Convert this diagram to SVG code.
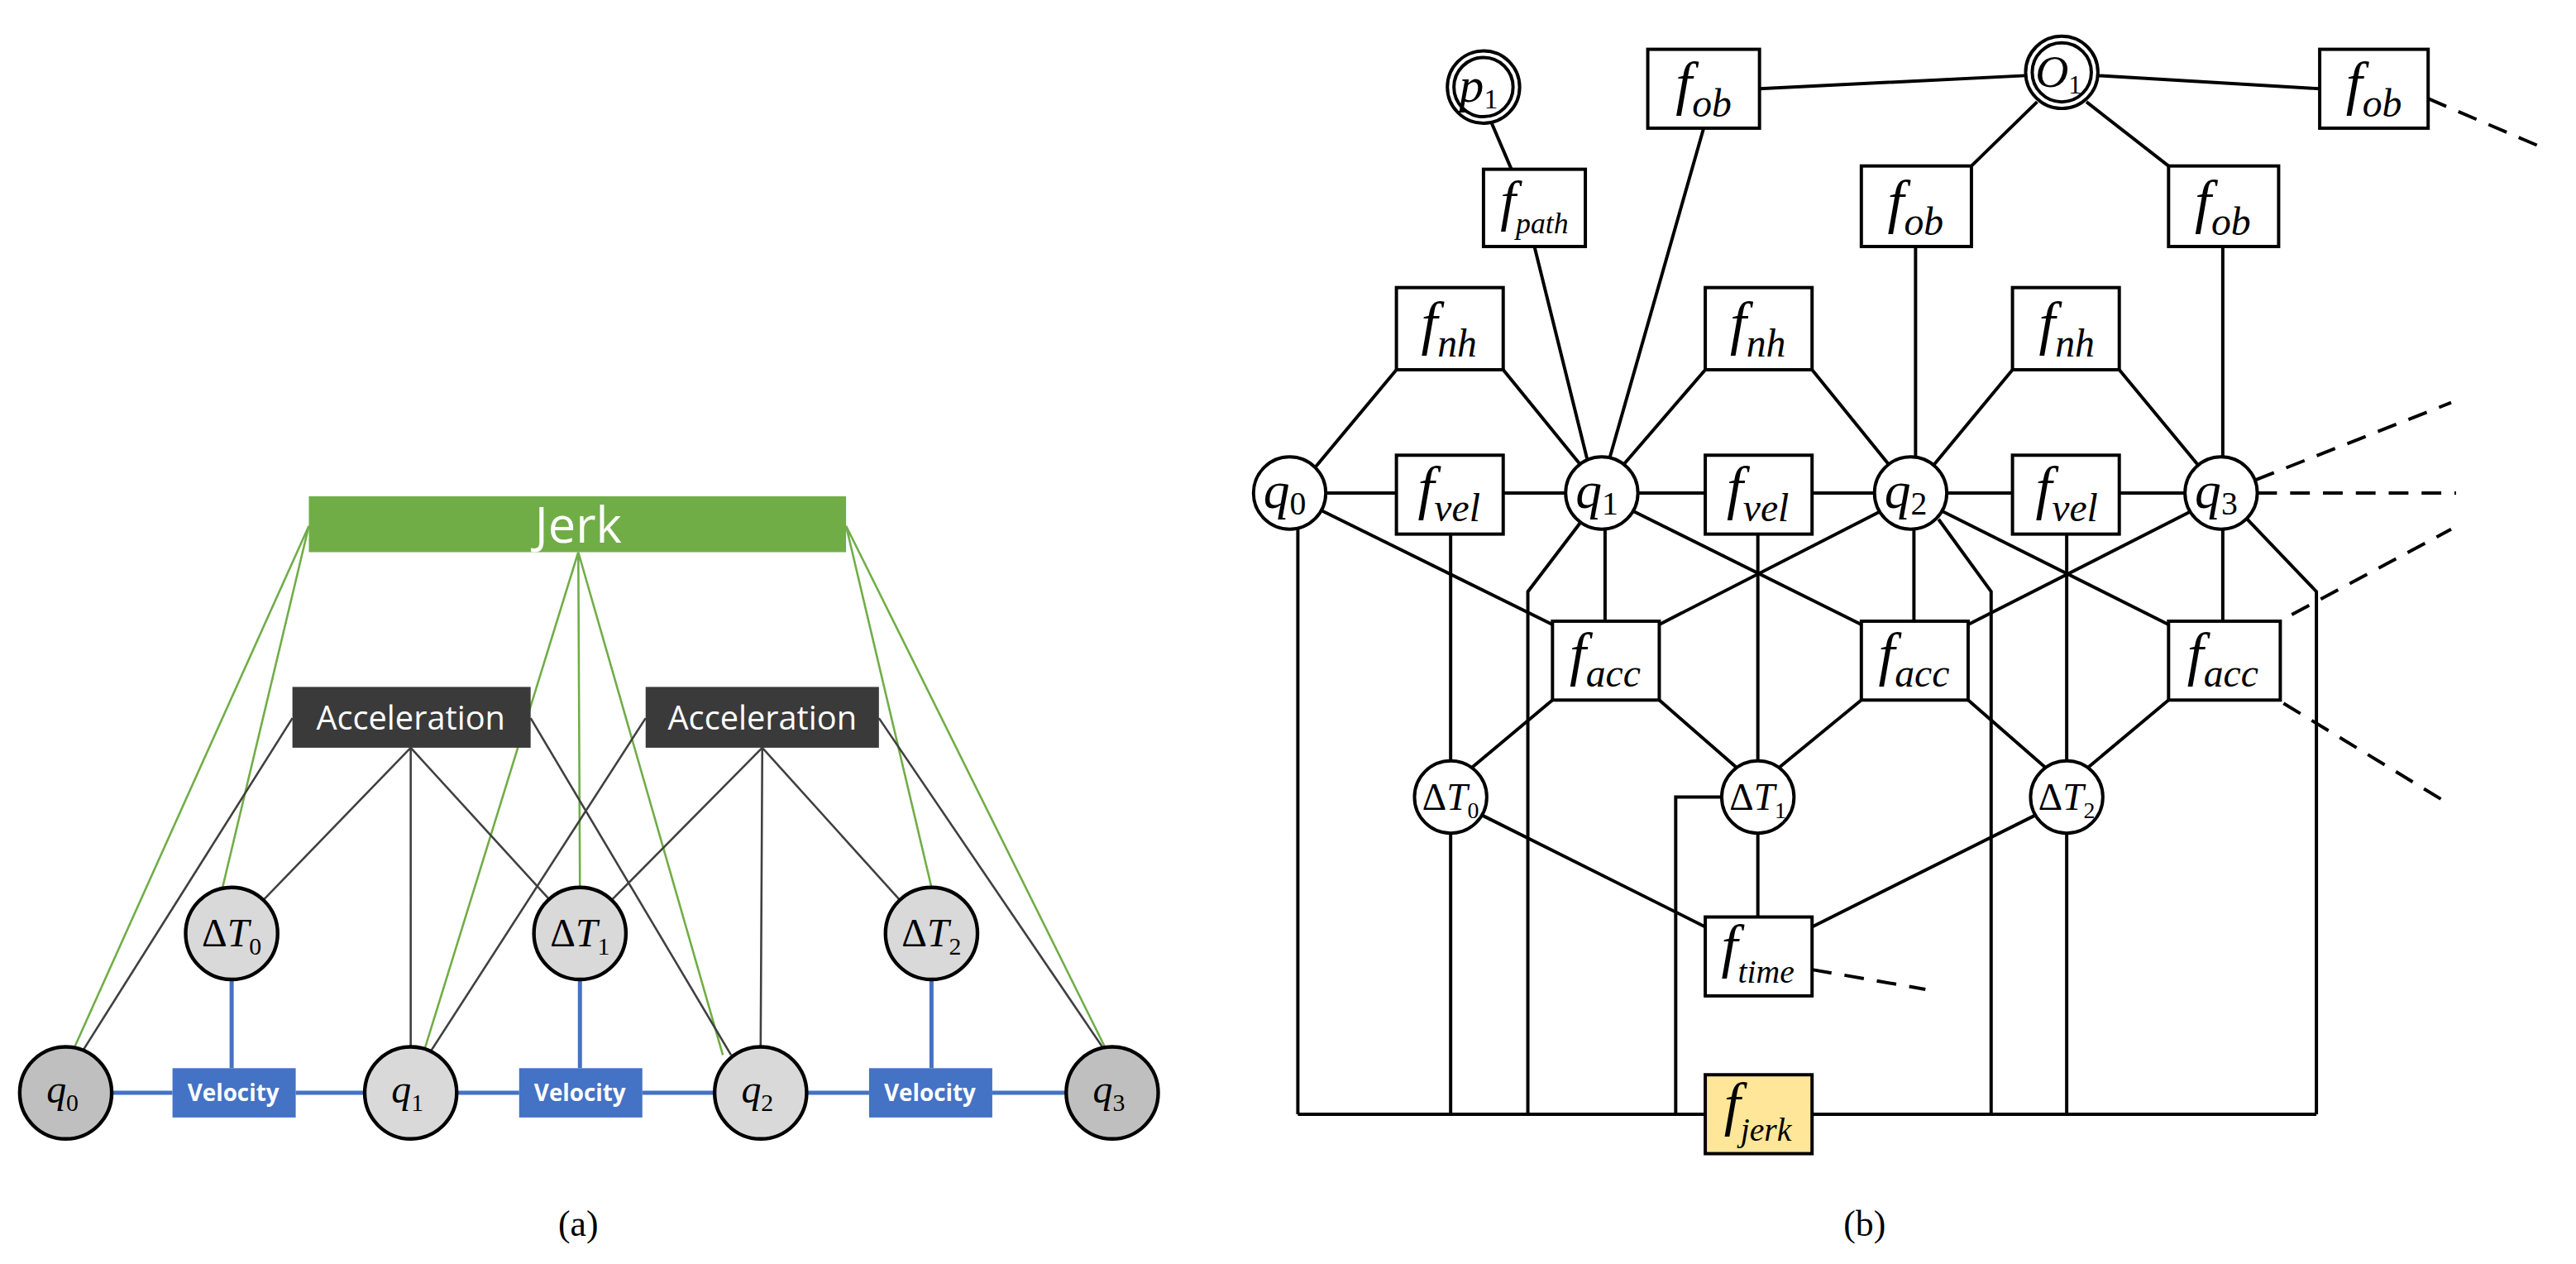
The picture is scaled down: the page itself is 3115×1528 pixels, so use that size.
<svg xmlns="http://www.w3.org/2000/svg" width="3115" height="1528" viewBox="0 0 3115 1528">
<style>
.g{stroke:#70AD47;stroke-width:1.3;fill:none}
.k{stroke:#404040;stroke-width:1.3;fill:none}
.bl{stroke:#4472C4;stroke-width:2.5;fill:none}
.vn{fill:#D9D9D9;stroke:#000;stroke-width:2.2}
.vd{fill:#BFBFBF;stroke:#000;stroke-width:2.2}
.e{stroke:#000;stroke-width:2;fill:none}
.d{stroke:#000;stroke-width:2;fill:none;stroke-dasharray:12 8}
.n{fill:#fff;stroke:#000;stroke-width:2}
text.m{font-family:"Liberation Serif","Times New Roman","DejaVu Serif",serif;font-style:italic;fill:#000}
text.s{font-family:"Liberation Serif","Times New Roman","DejaVu Serif",serif;font-style:normal;fill:#000}
tspan.u{font-style:normal}
text.w{font-family:"Open Sans","Liberation Sans",sans-serif;fill:#fff}
</style>
<rect width="3115" height="1528" fill="#fff"/>
<g transform="scale(1.9866)">
<g id="connectors-a">
<path class="g" d="M188 320L45 638M188 320L135 542M352 336L258 640M352 336L353 540M352 336L440 642M515 320L567 540M515 320L673 638"/>
<path class="k" d="M250 455L160 548M250 455L250 637M250 455L335 548M178 437L50 640M323 437L445 642M464 455L372 548M464 455L463 637M464 455L548 548M393 437L262 640M535 437L673 640"/>
<path class="bl" d="M68 665H105M180 665H222M278 665H316M391 665H435M491 665H529M604 665H649M141 596V650M353 596V650M567 596V650"/>
</g>
<g id="jerk-a"><rect x="188" y="302" width="327" height="34" fill="#70AD47"/><text class="w" x="352" y="330" font-size="30" text-anchor="middle">Jerk</text></g>
<g id="acc-a1"><rect x="178" y="418" width="145" height="37" fill="#3A3A3A"/><text class="w" x="250" y="444" font-size="20" text-anchor="middle">Acceleration</text></g>
<g id="acc-a2"><rect x="393" y="418" width="142" height="37" fill="#3A3A3A"/><text class="w" x="464" y="444" font-size="20" text-anchor="middle">Acceleration</text></g>
<g id="dt-a0"><circle class="vn" cx="141" cy="568" r="28"/><text class="m" x="141" y="576" font-size="24" text-anchor="middle"><tspan class="u">Δ</tspan>T<tspan class="u" font-size="15" dy="5">0</tspan></text></g>
<g id="dt-a1"><circle class="vn" cx="353" cy="568" r="28"/><text class="m" x="353" y="576" font-size="24" text-anchor="middle"><tspan class="u">Δ</tspan>T<tspan class="u" font-size="15" dy="5">1</tspan></text></g>
<g id="dt-a2"><circle class="vn" cx="567" cy="568" r="28"/><text class="m" x="567" y="576" font-size="24" text-anchor="middle"><tspan class="u">Δ</tspan>T<tspan class="u" font-size="15" dy="5">2</tspan></text></g>
<g id="q-a0"><circle class="vd" cx="40" cy="665" r="28"/><text class="m" x="38" y="671" font-size="24" text-anchor="middle">q<tspan class="u" font-size="15" dy="5">0</tspan></text></g>
<g id="q-a1"><circle class="vn" cx="250" cy="665" r="28"/><text class="m" x="248" y="671" font-size="24" text-anchor="middle">q<tspan class="u" font-size="15" dy="5">1</tspan></text></g>
<g id="q-a2"><circle class="vn" cx="463" cy="665" r="28"/><text class="m" x="461" y="671" font-size="24" text-anchor="middle">q<tspan class="u" font-size="15" dy="5">2</tspan></text></g>
<g id="q-a3"><circle class="vd" cx="677" cy="665" r="28"/><text class="m" x="675" y="671" font-size="24" text-anchor="middle">q<tspan class="u" font-size="15" dy="5">3</tspan></text></g>
<g id="vel-a0"><rect x="105" y="650" width="75" height="30" fill="#4472C4"/><text class="w" x="142" y="670" font-size="14" font-weight="bold" text-anchor="middle">Velocity</text></g>
<g id="vel-a1"><rect x="316" y="650" width="75" height="30" fill="#4472C4"/><text class="w" x="353" y="670" font-size="14" font-weight="bold" text-anchor="middle">Velocity</text></g>
<g id="vel-a2"><rect x="529" y="650" width="75" height="30" fill="#4472C4"/><text class="w" x="566" y="670" font-size="14" font-weight="bold" text-anchor="middle">Velocity</text></g>
<text class="s" x="352" y="752" font-size="22" text-anchor="middle">(a)</text>

<g id="connectors-b">
<path class="e" d="M908 75L920 103M934 150L966 279M1037 78L980 278M1071 54L1233 46M1277 46L1412 54M1240 62L1200 101M1270 62L1320 101M1166 150V278M1353 150V278"/>
<path class="e" d="M850 225L800 285M915 225L963 284M1038 225L988 283M1103 225L1150 283M1225 225L1177 283M1290 225L1338 283"/>
<path class="e" d="M807 300H850M915 300H953M997 300H1038M1103 300H1141M1185 300H1225M1290 300H1330"/>
<path class="e" d="M805 311L945 380M977 322V378M1145 311L1010 380M945 426L896 467M1010 426L1057 467M994 311L1133 380M1165 322V378M1334 311L1198 380M1133 426L1083 467M1198 426L1245 467M1182 311L1320 380M1353 322V378M1320 426L1271 467"/>
<path class="e" d="M883 325V463M1070 325V463M1258 325V463M902 496L1038 564M1070 507V558M1239 496L1103 564"/>
<path class="e" d="M790 678H1038M1103 678H1410M790 322V678M883 507V678M962 318L930 360V678M1048 485H1020V678M1180 316L1212 360V678M1258 507V678M1368 316L1410 360V678"/>
<path class="d" d="M1478 60L1548 90M1373 292L1492 245M1374 300H1495M1395 374L1492 322M1390 428L1492 490M1103 590L1172 602"/>
</g>
<g id="p1"><circle class="n" cx="903" cy="53" r="22"/><circle class="n" cx="903" cy="53" r="18"/><text class="m" x="900" y="62" font-size="30" text-anchor="middle">p<tspan class="u" font-size="17" dy="4">1</tspan></text></g>
<g id="O1"><circle class="n" cx="1255" cy="44" r="22"/><circle class="n" cx="1255" cy="44" r="18"/><text class="m" x="1253" y="53" font-size="28" text-anchor="middle">O<tspan class="u" font-size="16" dy="4">1</tspan></text></g>
<g id="fob1"><rect class="n" x="1003" y="30" width="68" height="48"/><text class="m" x="1037" y="63" font-size="36" text-anchor="middle">f<tspan font-size="24" dy="8">ob</tspan></text></g>
<g id="fob4"><rect class="n" x="1412" y="30" width="66" height="48"/><text class="m" x="1445" y="63" font-size="36" text-anchor="middle">f<tspan font-size="24" dy="8">ob</tspan></text></g>
<g id="fob2"><rect class="n" x="1133" y="101" width="67" height="49"/><text class="m" x="1166" y="135" font-size="36" text-anchor="middle">f<tspan font-size="24" dy="8">ob</tspan></text></g>
<g id="fob3"><rect class="n" x="1320" y="101" width="67" height="49"/><text class="m" x="1353" y="135" font-size="36" text-anchor="middle">f<tspan font-size="24" dy="8">ob</tspan></text></g>
<g id="fpath"><rect class="n" x="903" y="103" width="62" height="47"/><text class="m" x="934" y="134" font-size="34" text-anchor="middle">f<tspan font-size="18" dy="8">path</tspan></text></g>
<g id="fnh1"><rect class="n" x="850" y="175" width="65" height="50"/><text class="m" x="882" y="209" font-size="36" text-anchor="middle">f<tspan font-size="24" dy="8">nh</tspan></text></g>
<g id="fnh2"><rect class="n" x="1038" y="175" width="65" height="50"/><text class="m" x="1070" y="209" font-size="36" text-anchor="middle">f<tspan font-size="24" dy="8">nh</tspan></text></g>
<g id="fnh3"><rect class="n" x="1225" y="175" width="65" height="50"/><text class="m" x="1258" y="209" font-size="36" text-anchor="middle">f<tspan font-size="24" dy="8">nh</tspan></text></g>
<g id="q0"><circle class="n" cx="785" cy="300" r="22"/><text class="m" x="782" y="309" font-size="32" text-anchor="middle">q<tspan class="u" font-size="20" dy="4">0</tspan></text></g>
<g id="q1"><circle class="n" cx="975" cy="300" r="22"/><text class="m" x="972" y="309" font-size="32" text-anchor="middle">q<tspan class="u" font-size="20" dy="4">1</tspan></text></g>
<g id="q2"><circle class="n" cx="1163" cy="300" r="22"/><text class="m" x="1160" y="309" font-size="32" text-anchor="middle">q<tspan class="u" font-size="20" dy="4">2</tspan></text></g>
<g id="q3"><circle class="n" cx="1352" cy="300" r="22"/><text class="m" x="1349" y="309" font-size="32" text-anchor="middle">q<tspan class="u" font-size="20" dy="4">3</tspan></text></g>
<g id="fvel1"><rect class="n" x="850" y="277" width="65" height="48"/><text class="m" x="882" y="309" font-size="36" text-anchor="middle">f<tspan font-size="24" dy="8">vel</tspan></text></g>
<g id="fvel2"><rect class="n" x="1038" y="277" width="65" height="48"/><text class="m" x="1070" y="309" font-size="36" text-anchor="middle">f<tspan font-size="24" dy="8">vel</tspan></text></g>
<g id="fvel3"><rect class="n" x="1225" y="277" width="65" height="48"/><text class="m" x="1258" y="309" font-size="36" text-anchor="middle">f<tspan font-size="24" dy="8">vel</tspan></text></g>
<g id="facc1"><rect class="n" x="945" y="378" width="65" height="48"/><text class="m" x="977" y="410" font-size="36" text-anchor="middle">f<tspan font-size="24" dy="8">acc</tspan></text></g>
<g id="facc2"><rect class="n" x="1133" y="378" width="65" height="48"/><text class="m" x="1165" y="410" font-size="36" text-anchor="middle">f<tspan font-size="24" dy="8">acc</tspan></text></g>
<g id="facc3"><rect class="n" x="1320" y="378" width="68" height="48"/><text class="m" x="1353" y="410" font-size="36" text-anchor="middle">f<tspan font-size="24" dy="8">acc</tspan></text></g>
<g id="dT0"><circle class="n" cx="883" cy="485" r="22"/><text class="m" x="883" y="493" font-size="23" text-anchor="middle"><tspan class="u">Δ</tspan>T<tspan class="u" font-size="14" dy="5">0</tspan></text></g>
<g id="dT1"><circle class="n" cx="1070" cy="485" r="22"/><text class="m" x="1070" y="493" font-size="23" text-anchor="middle"><tspan class="u">Δ</tspan>T<tspan class="u" font-size="14" dy="5">1</tspan></text></g>
<g id="dT2"><circle class="n" cx="1258" cy="485" r="22"/><text class="m" x="1258" y="493" font-size="23" text-anchor="middle"><tspan class="u">Δ</tspan>T<tspan class="u" font-size="14" dy="5">2</tspan></text></g>
<g id="ftime"><rect class="n" x="1038" y="558" width="65" height="48"/><text class="m" x="1070" y="588" font-size="36" text-anchor="middle">f<tspan font-size="20" dy="10">time</tspan></text></g>
<g id="fjerk"><rect x="1038" y="654" width="65" height="48" fill="#FFE699" stroke="#000" stroke-width="2"/><text class="m" x="1070" y="684" font-size="36" text-anchor="middle">f<tspan font-size="20" dy="10">jerk</tspan></text></g>
<text class="s" x="1135" y="752" font-size="22" text-anchor="middle">(b)</text>
</g>
</svg>
